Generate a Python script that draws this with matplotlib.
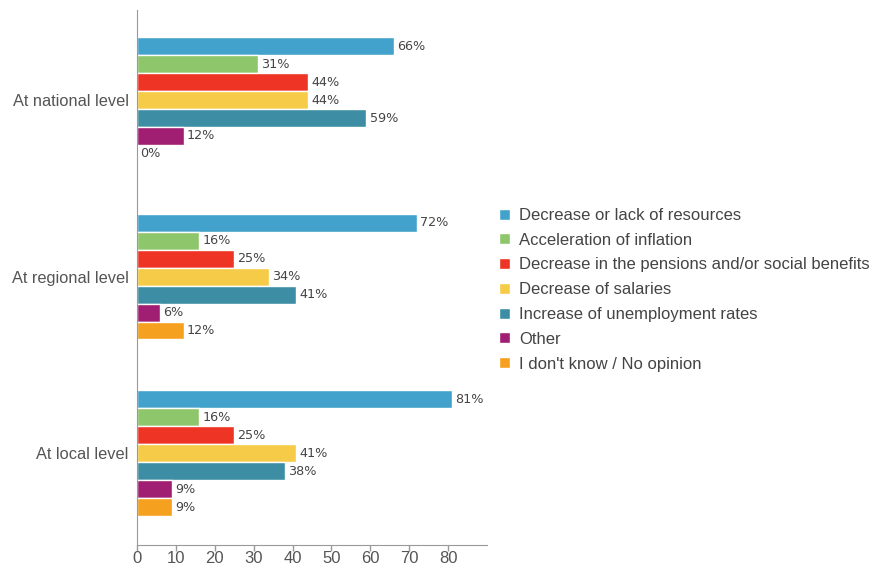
import numpy as np
import matplotlib.pyplot as plt
from matplotlib.patches import Patch

plt.rcParams['font.family'] = ['Liberation Sans', 'DejaVu Sans']

# survey levels and answer categories
levels = ['At national level', 'At regional level', 'At local level']
answers = ['Decrease or lack of resources',
           'Acceleration of inflation',
           'Decrease in the pensions and/or social benefits',
           'Decrease of salaries',
           'Increase of unemployment rates',
           'Other',
           "I don't know / No opinion"]
colors = ['#42a2cc', '#8dc66b', '#ee3424', '#f6cb47', '#3d8ea4', '#a01f72', '#f6a01f']

# percent per answer, one value per level (national, regional, local)
resources = [66, 72, 81]
inflation = [31, 16, 16]
pensions = [44, 25, 25]
salaries = [44, 34, 41]
unemployment = [59, 41, 38]
other = [12, 6, 9]
no_opinion = [0, 12, 9]
series = [resources, inflation, pensions, salaries, unemployment, other, no_opinion]

fig = plt.figure(figsize=(8.77, 5.65), dpi=100)
ax = fig.add_axes([137 / 877, 20 / 565, 350 / 877, 535 / 565])

step = 0.1017
y = np.arange(len(levels))
for i, (vals, c) in enumerate(zip(series, colors)):
    pos = y + (i - 3) * step
    ax.barh(pos, vals, height=step, color=c, edgecolor='white', linewidth=1.0)
    for p, v in zip(pos, vals):
        ax.text(v + 0.8, p, '%d%%' % v, va='center', ha='left',
                fontsize=9.2, color='#444444', family='DejaVu Sans')

ax.set_xlim(0, 90)
ax.set_ylim(2.52, -0.51)
ax.set_yticks(y)
ax.set_yticklabels(levels, fontsize=11.8, color='#555555')
ax.set_xticks(np.arange(0, 90, 10))
ax.tick_params(axis='x', labelsize=12, labelcolor='#555555', color='#999999',
               length=4, width=1, pad=0.5)
ax.tick_params(axis='y', length=0, pad=6)
for s in ['top', 'right']:
    ax.spines[s].set_visible(False)
for s in ['left', 'bottom']:
    ax.spines[s].set_color('#999999')

handles = [Patch(facecolor=c, edgecolor='white') for c in colors]
fig.legend(handles, answers, loc='upper left', bbox_to_anchor=(499 / 877, 1 - 208 / 565),
           frameon=False, fontsize=12, handlelength=0.65, handleheight=0.65,
           handletextpad=0.55, labelspacing=0.585, labelcolor='#444444',
           borderaxespad=0, borderpad=0)

fig.savefig('out.png', dpi=100)
